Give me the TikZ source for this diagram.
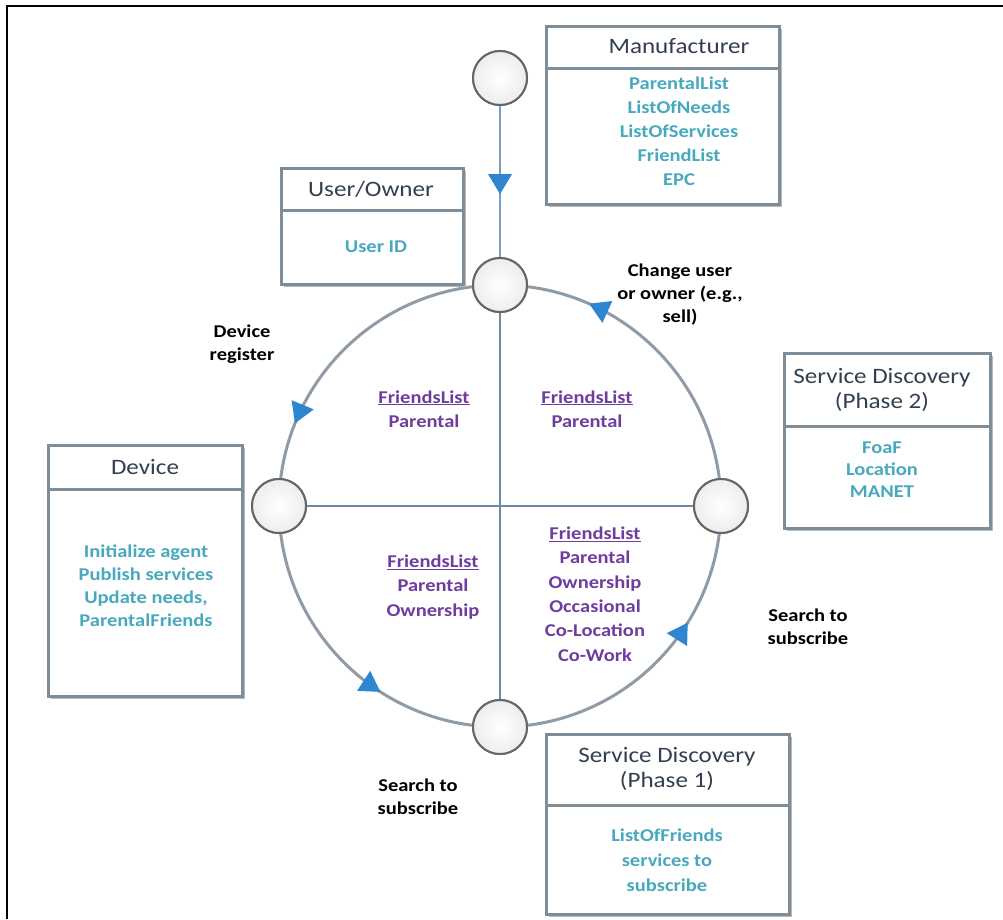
\documentclass[tikz,border=0pt]{standalone}
\usepackage{fontspec}
\setmainfont{Carlito}[FakeStretch=1.14]
\usetikzlibrary{decorations.markings,shadows}
\definecolor{hdrc}{HTML}{333F50}
\definecolor{tealc}{HTML}{48A9BE}
\definecolor{purp}{HTML}{6F3D9E}
\definecolor{edge}{HTML}{7D8D9A}
\definecolor{ringc}{HTML}{8F9BA6}
\definecolor{crossc}{HTML}{6F8BA3}
\definecolor{feedc}{HTML}{74A0C8}
\definecolor{tipc}{HTML}{2E86D0}
\begin{document}
\begin{tikzpicture}[x=1pt,y=-1pt,
  panel/.style={draw=edge,line width=3pt,fill=white,inner sep=0pt,anchor=north west,
    general shadow={shadow xshift=2pt,shadow yshift=-2pt,fill=gray!55}},
  divider/.style={draw=edge,line width=3pt},
  hdr/.style={font=\fontsize{22}{25}\selectfont,text=hdrc,align=center,inner sep=0pt},
  body/.style={font=\bfseries\fontsize{18}{24}\selectfont,text=tealc,align=center,inner sep=0pt},
  quad/.style={font=\bfseries\fontsize{18}{24.3}\selectfont,text=purp,align=center,inner sep=0pt},
  lbl/.style={font=\bfseries\fontsize{18}{23}\selectfont,text=black,align=center,inner sep=0pt},
  hub/.style={circle,minimum size=54pt,inner sep=0pt,draw=gray!80!black,line width=2pt,
    inner color=white,outer color=gray!14},
  ring/.style={draw=ringc,line width=3pt},
  cross/.style={draw=crossc,line width=1.3pt},
  flowtip/.style={postaction={decorate},decoration={markings,
    mark=at position #1 with {\fill[tipc] (2,0) -- (-18,-12) -- (-18,12) -- cycle;}}}
]
\useasboundingbox (0,0) rectangle (1003,919);
\fill[white] (0,0) rectangle (1003,919);
% outer frame
\draw[black,line width=2pt] (7,919) -- (7,6) -- (1003,6);

% ring hubs (ring centre 500,506, radius 221)
\node[hub] (ntop) at (500,285) {};
\node[hub] (nleft) at (279,506) {};
\node[hub] (nright) at (721,506) {};
\node[hub] (nbot) at (500,727) {};
\node[hub] (nsrc) at (500,78) {};

% connectors (y axis points down, so angles run clockwise on the page)
\draw[cross] (ntop.center) -- (nbot.center);
\draw[cross] (nleft.center) -- (nright.center);
\draw[draw=feedc,line width=2pt,flowtip=0.57] (nsrc) -- (ntop);
\draw[ring,flowtip=0.75] (ntop.center) arc[start angle=270,end angle=180,radius=221];
\draw[ring,flowtip=0.63] (nleft.center) arc[start angle=180,end angle=90,radius=221];
\draw[ring,flowtip=0.64] (nbot.center) arc[start angle=90,end angle=0,radius=221];
\draw[ring,flowtip=0.73] (nright.center) arc[start angle=360,end angle=270,radius=221];

% hubs again, above the lines
\foreach \p in {(500,285),(279,506),(721,506),(500,727),(500,78)}
  \node[hub] at \p {};

% Manufacturer
\node[panel,minimum width=233pt,minimum height=178pt] (manuf) at (545,25) {};
\draw[divider] (545,68) -- (778,68);
\node[hdr] (manufh) at (679,46) {Manufacturer};
\node[body] (manufb) at (679,131) {ParentalList\\ListOfNeeds\\ListOfServices\\FriendList\\EPC};

% User/Owner
\node[panel,minimum width=182pt,minimum height=116pt] (user) at (280,167) {};
\draw[divider] (280,210) -- (462,210);
\node[hdr] (userh) at (371,189) {User/Owner};
\node[body] (userb) at (376,247) {User ID};

% Service Discovery (Phase 2)
\node[panel,minimum width=206pt,minimum height=175pt] (sd2) at (783,352) {};
\draw[divider] (783,426) -- (989,426);
\node[hdr] (sd2h) at (882,390) {Service Discovery\\(Phase 2)};
\node[body,font=\bfseries\fontsize{18}{22}\selectfont] (sd2b) at (882,470) {FoaF\\Location\\MANET};

% Device
\node[panel,minimum width=194pt,minimum height=251pt] (dev) at (47,444) {};
\draw[divider] (47,489) -- (241,489);
\node[hdr] (devh) at (145,467) {Device};
\node[body,font=\bfseries\fontsize{18}{23}\selectfont] (devb) at (146,586) {Initialize agent\\Publish services\\Update needs,\\ParentalFriends};

% Service Discovery (Phase 1)
\node[panel,minimum width=243pt,minimum height=180pt] (sd1) at (545,733) {};
\draw[divider] (545,805) -- (788,805);
\node[hdr] (sd1h) at (667,769) {Service Discovery\\(Phase 1)};
\node[body,font=\bfseries\fontsize{18}{25}\selectfont] (sd1b) at (667,860) {ListOfFriends\\services to\\subscribe};

% quadrant contents
\node[quad] (qtl) at (424,409) {\underline{FriendsList}\\Parental};
\node[quad] (qtr) at (587,409) {\underline{FriendsList}\\Parental};
\node[quad] (qbl) at (433,587) {\underline{FriendsList}\\Parental\\Ownership};
\node[quad] (qbr) at (595,594) {\underline{FriendsList}\\Parental\\Ownership\\Occasional\\Co-Location\\Co-Work};

% transition labels
\node[lbl] (lreg) at (242,344) {Device\\register};
\node[lbl] (lchg) at (680,295) {Change user\\or owner (e.g.,\\sell)};
\node[lbl] (lsr) at (808,627) {Search to\\subscribe};
\node[lbl] (lsb) at (418,797) {Search to\\subscribe};
\end{tikzpicture}
\end{document}
